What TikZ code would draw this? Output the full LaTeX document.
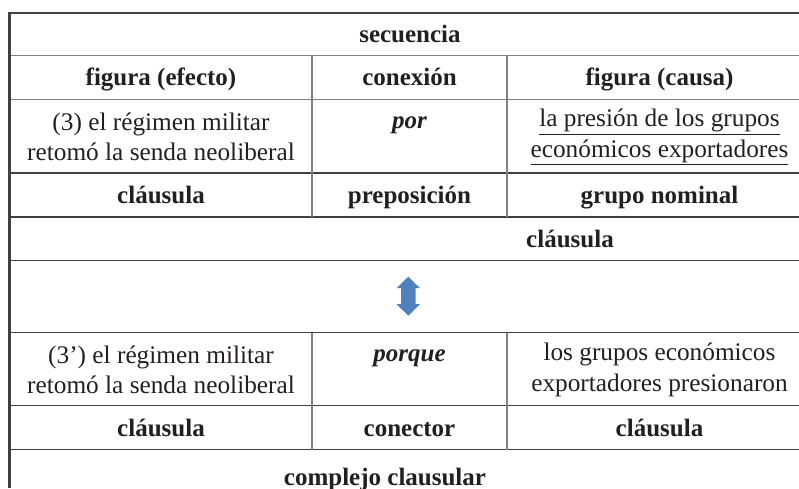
\documentclass[tikz,border=0pt]{standalone}
\usepackage{fontspec}
\setmainfont{Liberation Serif}
\usetikzlibrary{positioning}
\definecolor{rulecolor}{RGB}{64, 64, 64}
\definecolor{gridcolor}{RGB}{128, 128, 128}
\definecolor{arrowcolor}{RGB}{79, 129, 189}
\definecolor{inkcolor}{RGB}{35, 31, 32}
\tikzstyle{cell} = [
	inner sep=0pt,
	align=center,
	text=inkcolor,
	font=\fontsize{25.3}{30.5}\selectfont
]
\tikzstyle{hcell} = [
	cell,
	anchor=base,
	font=\fontsize{25}{30}\selectfont\bfseries
]
\tikzstyle{conn} = [
	cell,
	anchor=base,
	font=\fontsize{25}{30}\selectfont\bfseries\itshape
]
\tikzstyle{hrule} = [
	line width=1.2pt,
	draw=rulecolor
]
\tikzstyle{grule} = [
	line width=1.4pt,
	draw=gridcolor
]

\begin{document}
\begin{tikzpicture}[x=1pt, y=-1pt]
	\useasboundingbox (0,0) rectangle (799,488);
	
	%
	% Rules
	\draw[line width=2pt, draw=rulecolor] (8,12.5) -- (799,12.5);
	\draw[line width=3pt, draw=rulecolor] (9.5,11.5) -- (9.5,488);
	\draw[grule] (11,55.5) -- (799,55.5);
	\draw[grule] (11,99.5) -- (799,99.5);
	\foreach \y in {173,217,260.5,332.5,405.5,449.5}
		\draw[hrule] (11,\y) -- (799,\y);
	\draw[grule] (312,55.5) -- (312,217);
	\draw[grule] (507,55.5) -- (507,217);
	\draw[grule] (312,332.5) -- (312,449.5);
	\draw[grule] (507,332.5) -- (507,449.5);
	
	%
	% Upper block
	\node[hcell] (seq) at (410,42) {secuencia};
	\node[hcell] (efecto) at (161,85) {figura (efecto)};
	\node[hcell] (conexion) at (409.5,85) {conexión};
	\node[hcell] (causa) at (659.5,85) {figura (causa)};
	\node[cell] (ej3) at (161,137) {(3) el régimen militar\\retomó la senda neoliberal};
	\node[conn] (por) at (409.5,128) {por};
	\node[cell] (presion) at (659.5,137) {\underline{la presión de los grupos}\\\underline{económicos exportadores}};
	\node[hcell] (clau1) at (161,203) {cláusula};
	\node[hcell] (prep) at (409.5,203) {preposición};
	\node[hcell] (gnom) at (659.5,203) {grupo nominal};
	\node[hcell] (clau2) at (570,247) {cláusula};
	
	%
	% Arrow
	\fill[arrowcolor] (408.3,276.7) -- (420,288.2) -- (415.6,288.2) -- (415.6,304.2)
		-- (420,304.2) -- (408.3,315.7) -- (396.6,304.2) -- (401,304.2)
		-- (401,288.2) -- (396.6,288.2) -- cycle;
	
	%
	% Lower block
	\node[cell] (ej3b) at (161,370) {(3’) el régimen militar\\retomó la senda neoliberal};
	\node[conn] (porque) at (409.5,361) {porque};
	\node[cell] (grupos) at (659.5,370) {los grupos económicos\\exportadores presionaron};
	\node[hcell] (clau3) at (161,436) {cláusula};
	\node[hcell] (conector) at (409.5,436) {conector};
	\node[hcell] (clau4) at (659.5,436) {cláusula};
	\node[hcell] (complejo) at (385,485) {complejo clausular};
	
\end{tikzpicture}
\end{document}
